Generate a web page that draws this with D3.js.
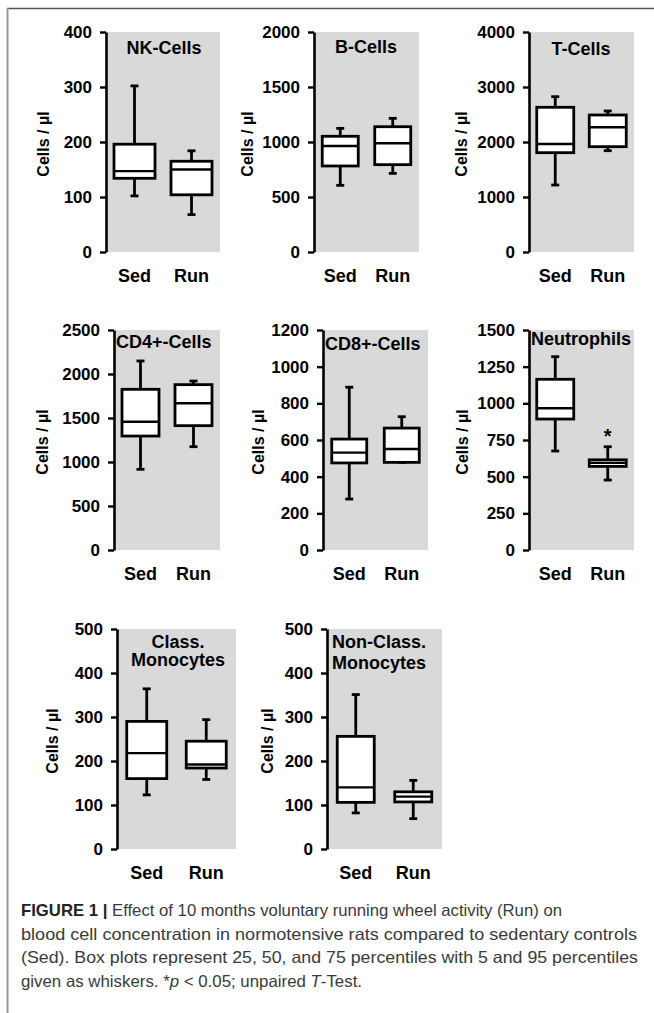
<!DOCTYPE html>
<html><head><meta charset="utf-8">
<script src="https://cdn.jsdelivr.net/npm/d3@7"></script>
<style>body{margin:0;background:#fff}svg{display:block}</style>
</head><body>
<svg id="c" width="654" height="1013"></svg>
<script>
// ---------- data ----------
const groups = ["Sed", "Run"];
const titles = [["NK-Cells"], ["B-Cells"], ["T-Cells"], ["CD4+-Cells"], ["CD8+-Cells"], ["Neutrophils"], ["Class.", "Monocytes"], ["Non-Class.", "Monocytes"]];
const yMax  = [400, 2000, 4000, 2500, 1200, 1500, 500, 500];
const yStep = [100, 500, 1000, 500, 200, 250, 100, 100];
// [p5, q1, median, q3, p95]
const sedStats = [
  [102, 134, 147, 196, 302],
  [606, 782, 964, 1052, 1124],
  [1218, 1806, 1964, 2631, 2824],
  [917, 1295, 1458, 1826, 2148],
  [278, 475, 531, 605, 888],
  [675, 893, 966, 1164, 1318],
  [123, 160, 218, 290, 364],
  [82, 106, 140, 256, 351]
];
const runStats = [
  [68, 104, 150, 165, 184],
  [715, 794, 988, 1139, 1215],
  [1842, 1915, 2267, 2491, 2564],
  [1174, 1413, 1667, 1879, 1920],
  [478, 478, 551, 665, 727],
  [477, 570, 594, 615, 704],
  [158, 184, 192, 245, 294],
  [69, 107, 119, 130, 156]
];
const significant = [[], [], [], [], [], ["Run"], [], []];
const yLabel = "Cells / \u00B5l";
const captionLines = [
  [{t:"FIGURE 1 | ", b:true}, {t:"Effect of 10 months voluntary running wheel activity (Run) on"}],
  [{t:"blood cell concentration in normotensive rats compared to sedentary controls"}],
  [{t:"(Sed). Box plots represent 25, 50, and 75 percentiles with 5 and 95 percentiles"}],
  [{t:"given as whiskers. *"}, {t:"p", i:true}, {t:" < 0.05; unpaired "}, {t:"T", i:true}, {t:"-Test."}]
];

// ---------- layout (not data) ----------
const layout = [
  {x0:106, x1:220, y0:32,  y1:252, bw:41, ylx:43,  tx:164, ta:"middle", ty:[54]},
  {x0:314, x1:419, y0:32,  y1:252, bw:36, ylx:247, tx:366, ta:"middle", ty:[53]},
  {x0:529, x1:634, y0:32,  y1:252, bw:37, ylx:461, tx:581, ta:"middle", ty:[55]},
  {x0:114, x1:220, y0:330, y1:550, bw:37, ylx:42,  tx:116, ta:"start",  ty:[348]},
  {x0:323, x1:428, y0:330, y1:550, bw:35, ylx:258, tx:325, ta:"start",  ty:[350]},
  {x0:529, x1:634, y0:330, y1:550, bw:37, ylx:462, tx:531, ta:"start",  ty:[345]},
  {x0:117, x1:236, y0:629, y1:849, bw:40, ylx:52,  tx:178, ta:"middle", ty:[648, 666]},
  {x0:327, x1:442, y0:629, y1:849, bw:37, ylx:267, tx:332, ta:"start",  ty:[648, 669]}
];
const captionWidths = [541, 616, 617, 341];

const svg = d3.select("#c");
const font = "'Liberation Sans', Arial, sans-serif";

// frame
svg.append("line").attr("x1",7).attr("x2",654).attr("y1",8.5).attr("y2",8.5).attr("stroke","#555").attr("stroke-width",1.6);
svg.append("line").attr("x1",7.5).attr("x2",7.5).attr("y1",8).attr("y2",1013).attr("stroke","#999").attr("stroke-width",2);

layout.forEach((L, i) => {
  const g = svg.append("g");
  const y = d3.scaleLinear().domain([0, yMax[i]]).range([L.y1, L.y0]);
  const x = d3.scalePoint().domain(groups).range([L.x0, L.x1]).padding(0.5);
  g.append("rect").attr("x", L.x0).attr("y", L.y0).attr("width", L.x1 - L.x0).attr("height", L.y1 - L.y0).attr("fill", "#d9d9d9");

  const ticks = d3.range(0, yMax[i] + 1e-9, yStep[i]);
  const ax = g.append("g").attr("transform", `translate(${L.x0},0)`)
    .call(d3.axisLeft(y).tickValues(ticks).tickSize(6).tickSizeOuter(0).tickPadding(8).tickFormat(d3.format("d")));
  ax.select(".domain").attr("stroke", "#000").attr("stroke-width", 2.6);
  ax.selectAll(".tick line").attr("stroke", "#000").attr("stroke-width", 2.4);
  ax.selectAll(".tick text").attr("fill", "#000").style("font", `bold 17px ${font}`);

  // y label
  g.append("text").attr("transform", `translate(${L.ylx},${(L.y0 + L.y1) / 2 + 2}) rotate(-90)`)
    .attr("text-anchor", "middle").attr("dominant-baseline", "central")
    .style("font", `bold 16px ${font}`).text(yLabel);

  // title
  titles[i].forEach((t, k) => {
    g.append("text").attr("x", L.tx).attr("y", L.ty[k]).attr("text-anchor", L.ta)
      .style("font", `bold 18px ${font}`).text(t);
  });

  // x labels
  groups.forEach(gr => {
    g.append("text").attr("x", x(gr)).attr("y", L.y1 + 30).attr("text-anchor", "middle")
      .style("font", `bold 18px ${font}`).text(gr);
  });

  // boxes
  const stats = {Sed: sedStats[i], Run: runStats[i]};
  groups.forEach(gr => {
    const [lo, q1, md, q3, hi] = stats[gr];
    const cx = x(gr), hw = L.bw / 2, cap = 4;
    const bg = g.append("g").attr("stroke", "#000").attr("stroke-width", 2.8).attr("fill", "none");
    bg.append("line").attr("x1", cx).attr("x2", cx).attr("y1", y(hi)).attr("y2", y(q3));
    bg.append("line").attr("x1", cx).attr("x2", cx).attr("y1", y(q1)).attr("y2", y(lo));
    bg.append("line").attr("x1", cx - cap).attr("x2", cx + cap).attr("y1", y(hi)).attr("y2", y(hi));
    bg.append("line").attr("x1", cx - cap).attr("x2", cx + cap).attr("y1", y(lo)).attr("y2", y(lo));
    bg.append("rect").attr("x", cx - hw).attr("y", y(q3)).attr("width", L.bw).attr("height", y(q1) - y(q3)).attr("fill", "#fff");
    bg.append("line").attr("x1", cx - hw).attr("x2", cx + hw).attr("y1", y(md)).attr("y2", y(md)).attr("stroke-width", 2.4);
    if (significant[i].includes(gr)) {
      g.append("text").attr("x", cx).attr("y", y(hi) - 4).attr("text-anchor", "middle")
        .style("font", `bold 20px ${font}`).text("*");
    }
  });
});

// caption
const cap = svg.append("g");
captionLines.forEach((line, k) => {
  const t = cap.append("text").attr("x", 21).attr("y", 916 + k * 23.5)
    .attr("fill", "#3a3a3a").style("font", `16.5px ${font}`)
    .attr("textLength", captionWidths[k]).attr("lengthAdjust", "spacingAndGlyphs");
  line.forEach(s => {
    const ts = t.append("tspan").text(s.t);
    if (s.b) ts.attr("font-weight", "bold").attr("fill", "#222");
    if (s.i) ts.attr("font-style", "italic");
  });
});
</script>
</body></html>
